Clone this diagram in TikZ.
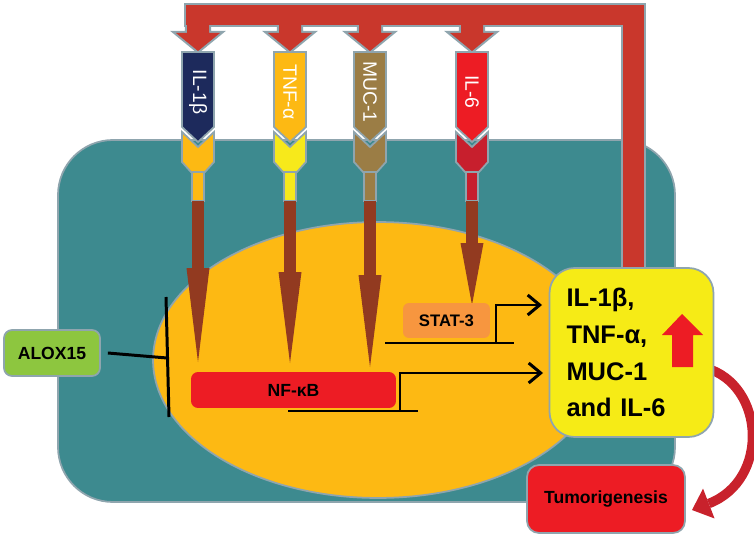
\documentclass[tikz,border=0pt]{standalone}
\usepackage{fontspec}
\setmainfont{Liberation Sans}
\usepackage{tikz}
\usetikzlibrary{shapes.geometric, arrows, arrows.meta}

\definecolor{cellteal}{RGB}{61,138,143}
\definecolor{edgegray}{RGB}{143,165,174}
\definecolor{nucyellow}{RGB}{253,185,19}
\definecolor{loopred}{RGB}{201,55,44}
\definecolor{navy}{RGB}{29,42,92}
\definecolor{gold}{RGB}{253,185,19}
\definecolor{lemon}{RGB}{247,233,27}
\definecolor{khaki}{RGB}{155,125,69}
\definecolor{brightred}{RGB}{237,28,36}
\definecolor{darkred}{RGB}{199,31,45}
\definecolor{rust}{RGB}{146,58,32}
\definecolor{leaf}{RGB}{141,198,63}
\definecolor{peach}{RGB}{247,150,63}
\definecolor{boxyellow}{RGB}{246,235,22}
\definecolor{curvered}{RGB}{200,34,44}

\tikzset{
  recname/.style={rotate=-90, text=white, font=\fontsize{11}{13}\selectfont},
  flow/.style={rust, line width=0.24cm, -{Triangle[length=#1, width=0.46cm, line width=0pt]}},
  gene/.style={black, line width=1.7pt},
  genego/.style={gene, -{Straight Barb[length=0.24cm, width=0.4cm]}},
  factor/.style={rounded corners=0.14cm, font=\bfseries\fontsize{10}{12}\selectfont},
}

\begin{document}
\begin{tikzpicture}[x=0.02cm, y=-0.02cm]
        \useasboundingbox (0,0) rectangle (754,537);

        % Draw the cell
        \draw[edgegray, line width=1pt, fill=cellteal, rounded corners=1.1cm] (58,140) rectangle (675,502);

        % Feedback loop from the output box to the receptors
        \begin{scope}[edgegray, line width=2.4pt, line join=miter]
          \draw (186,5) rectangle (644,25);
          \draw (623,5) rectangle (644,268);
          \foreach \cx in {198,290,370,472}
            \draw ({\cx-11},15) -- ({\cx+11},15) -- ({\cx+11},33) -- ({\cx+22},33) -- (\cx,51) -- ({\cx-22},33) -- ({\cx-11},33) -- cycle;
        \end{scope}
        \begin{scope}[loopred]
          \fill (186,5) rectangle (644,25);
          \fill (623,5) rectangle (644,268);
          \foreach \cx in {198,290,370,472}
            \fill ({\cx-11},15) -- ({\cx+11},15) -- ({\cx+11},33) -- ({\cx+22},33) -- (\cx,51) -- ({\cx-22},33) -- ({\cx-11},33) -- cycle;
        \end{scope}

        % Nucleus
        \draw[edgegray, line width=1pt, fill=nucyellow] (378,360) ellipse (4.5cm and 2.76cm);

        % Receptors
        \foreach \cx/\topc/\lowc/\nm/\txt in {198/navy/gold/il1b/IL-1β, 290/gold/lemon/tnfa/TNF-α, 370/khaki/khaki/muc1/MUC-1, 472/brightred/darkred/il6/IL-6} {
          \draw[edgegray, line width=1pt, fill=\lowc] ({\cx-6},170) rectangle ({\cx+6},201);
          \draw[edgegray, line width=1pt, fill=\lowc] ({\cx-16},132) -- (\cx,147) -- ({\cx+16},132) -- ({\cx+16},162) -- ({\cx+7},172) -- ({\cx-7},172) -- ({\cx-16},162) -- cycle;
          \draw[edgegray, line width=1pt, fill=\topc] ({\cx-16},52) -- ({\cx+16},52) -- ({\cx+16},127) -- (\cx,142) -- ({\cx-16},127) -- cycle;
          \node[recname] (\nm) at (\cx,92) {\txt};
        }

        % Signals into the nucleus
        \foreach \nm/\cx/\tip/\hl in {il1b/198/362/1.88cm, tnfa/290/363/1.82cm, muc1/370/367/1.84cm, il6/472/305/1.24cm} {
          \coordinate (\nm-in) at (\cx,201);
          \coordinate (\nm-to) at (\cx,\tip);
          \draw[flow=\hl] (\nm-in) -- (\nm-to);
        }

        % ALOX15 blocks NF-kB
        \node[factor, draw=edgegray, line width=1pt, fill=leaf, rounded corners=0.16cm, minimum width=1.92cm, minimum height=0.92cm] (alox) at (52,353) {ALOX15};
        \coordinate (block) at (167,358);
        \coordinate (blocktop) at (166,297);
        \coordinate (blockbot) at (169,417);
        \draw[gene] ([xshift=0.14cm]alox.east) -- (block);
        \draw[gene] (blocktop) -- (blockbot);

        % Transcription factors
        \node[factor, fill=brightred, minimum width=4.1cm, minimum height=0.72cm] (nfkb) at (293.5,390) {NF-κB};
        \node[factor, fill=peach, rounded corners=0.12cm, minimum width=1.74cm, minimum height=0.7cm, font=\bfseries\fontsize{9.5}{11}\selectfont] (stat) at (446.5,320.5) {STAT-3};

        \coordinate (nfkb-l) at (288,411);
        \coordinate (nfkb-r) at (418,411);
        \coordinate (nfkb-tss) at (400,411);
        \coordinate (nfkb-go) at (543,373);
        \draw[gene] (nfkb-l) -- (nfkb-r);
        \draw[genego] (nfkb-tss) |- (nfkb-go);

        \coordinate (stat-l) at (385,343);
        \coordinate (stat-r) at (514,343);
        \coordinate (stat-tss) at (496,343);
        \coordinate (stat-go) at (542,305);
        \draw[gene] (stat-l) -- (stat-r);
        \draw[genego] (stat-tss) |- (stat-go);

        % Output leads to tumorigenesis
        \coordinate (bend) at (706,368);
        \coordinate (hit) at (692,510);
        \draw[curvered, line width=0.19cm, -{Triangle[length=0.36cm, width=0.64cm, line width=0pt]}] (bend) .. controls (765,385) and (770,480) .. (hit);

        \node[draw=edgegray, line width=1pt, fill=boxyellow, rounded corners=0.5cm, minimum width=3.26cm, minimum height=3.38cm, text width=2.6cm, inner sep=0.34cm, align=left, font=\bfseries\fontsize{14.5}{21}\selectfont] (out) at (631.5,352.5) {IL-1β,\\TNF-α,\\MUC-1\\and IL-6};
        \fill[brightred] (662,335) -- (682,314) -- (703,335) -- (693,335) -- (693,367) -- (672,367) -- (672,335) -- cycle;

        \node[factor, draw=edgegray, line width=1pt, fill=brightred, rounded corners=0.24cm, minimum width=3.16cm, minimum height=1.36cm] (tumor) at (606,499) {Tumorigenesis};
\end{tikzpicture}
\end{document}
